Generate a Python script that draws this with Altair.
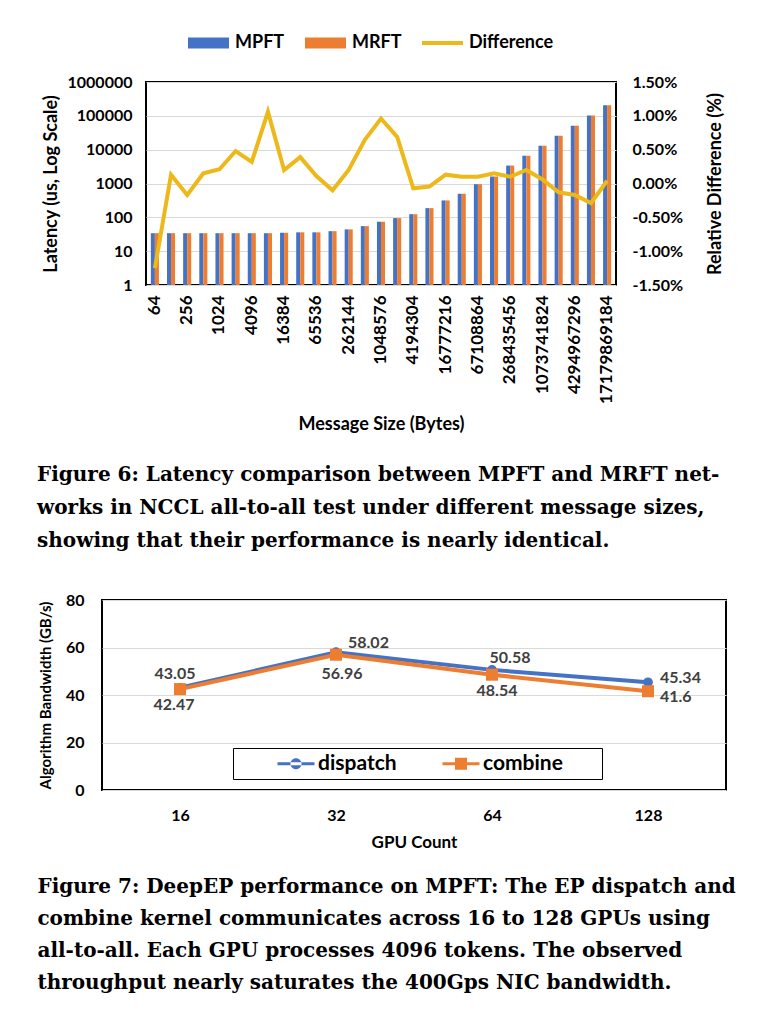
import altair as alt
import pandas as pd

# ---------------- data: Figure 6 ----------------
message_sizes = [
    "64", "128", "256", "512", "1024", "2048", "4096", "8192", "16384", "32768",
    "65536", "131072", "262144", "524288", "1048576", "2097152", "4194304",
    "8388608", "16777216", "33554432", "67108864", "134217728", "268435456",
    "536870912", "1073741824", "2147483648", "4294967296", "8589934592",
    "17179869184",
]
mpft_latency = [34, 34, 34, 34, 34, 34, 34, 34, 35, 36, 36, 39, 44, 55, 74, 95,
                124, 187, 316, 497, 955, 1607, 3388, 6650, 13100, 25800, 51000,
                102000, 205000]
mrft_latency = [34, 34, 34, 34, 34, 34, 34, 34, 35, 36, 36, 39, 44, 55, 74, 95,
                124, 187, 316, 497, 955, 1609, 3390, 6660, 13110, 25770, 50900,
                101700, 205100]
rel_difference_pct = [-1.25, 0.13, -0.17, 0.15, 0.21, 0.48, 0.32, 1.06, 0.20,
                      0.39, 0.11, -0.10, 0.20, 0.645, 0.96, 0.69, -0.07, -0.045,
                      0.13, 0.10, 0.10, 0.15, 0.10, 0.20, 0.06, -0.13, -0.17,
                      -0.29, 0.04]
bar_series = ["MPFT", "MRFT"]
diff_series = "Difference"

# ---------------- data: Figure 7 ----------------
gpu_counts = ["16", "32", "64", "128"]
dispatch_bw = [43.05, 58.02, 50.58, 45.34]
combine_bw = [42.47, 56.96, 48.54, 41.6]
bw_series = ["dispatch", "combine"]

caption6 = [
    "Figure 6: Latency comparison between MPFT and MRFT net-",
    "works in NCCL all-to-all test under different message sizes,",
    "showing that their performance is nearly identical.",
]
caption7 = [
    "Figure 7: DeepEP performance on MPFT: The EP dispatch and",
    "combine kernel communicates across 16 to 128 GPUs using",
    "all-to-all. Each GPU processes 4096 tokens. The observed",
    "throughput nearly saturates the 400Gps NIC bandwidth.",
]

BLUE = "#4472C4"
ORANGE = "#ED7D31"
GOLD = "#EDB819"
FONT = "Lato"
SERIF = "DejaVu Serif"
GRID = "#D9D9D9"

# legend glyphs (unit = half the nominal symbol size)
RECT_PATH = "M-1,-0.917H5.833V0.917H-1Z"
BAR_LINE_PATH = "M-1,-0.333H5.833V0.333H-1Z"
DISPATCH_PATH = ("M3.222,-0.18H7.333V0.18H3.222Z "
                 "M4.667,0A0.611,0.611 0 1,0 5.889,0A0.611,0.611 0 1,0 4.667,0Z")
COMBINE_PATH = "M3.222,-0.18H7.333V0.18H3.222Z M4.611,-0.667H5.944V0.667H4.611Z"

bar_df = pd.DataFrame({
    "size": message_sizes * 2,
    "series": [bar_series[0]] * len(message_sizes) + [bar_series[1]] * len(message_sizes),
    "latency": mpft_latency + mrft_latency,
})
line_df = pd.DataFrame({
    "size": message_sizes,
    "series": [diff_series] * len(message_sizes),
    "diff": [v / 100 for v in rel_difference_pct],
})
top_legend_df = pd.DataFrame({"series": bar_series + [diff_series]})

x_top = alt.X(
    "size:N", sort=message_sizes,
    scale=alt.Scale(paddingInner=0.5, paddingOuter=0.3),
    axis=alt.Axis(values=message_sizes[::2], labelAngle=-90, labelFont=FONT,
                  labelFontSize=17, labelFontWeight="bold", labelColor="black",
                  labelPadding=10, ticks=False, domain=False, grid=False,
                  title="Message Size (Bytes)", titleFont=FONT, titleFontSize=18,
                  titleFontWeight="bold", titleColor="black", titlePadding=12),
)
top_domain = bar_series + [diff_series]
top_range = [BLUE, ORANGE, GOLD]

bars = alt.Chart(bar_df).mark_bar().encode(
    x=x_top,
    xOffset=alt.XOffset("series:N", sort=bar_series),
    y=alt.Y("latency:Q", stack=None, scale=alt.Scale(type="log", domain=[1, 1000000]),
            axis=alt.Axis(values=[1, 10, 100, 1000, 10000, 100000, 1000000], format="d",
                          labelFont=FONT, labelFontSize=16, labelFontWeight="bold",
                          labelColor="black", labelPadding=14, ticks=False, domain=False,
                          grid=True, gridColor=GRID,
                          title="Latency (us, Log Scale)", titleFont=FONT,
                          titleFontSize=18, titleFontWeight="bold", titleColor="black",
                          titlePadding=7)),
    color=alt.Color("series:N", scale=alt.Scale(domain=top_domain, range=top_range), legend=None),
)

diff_line = alt.Chart(line_df).mark_line(strokeWidth=4).encode(
    x=x_top,
    y=alt.Y("diff:Q", scale=alt.Scale(domain=[-0.015, 0.015]),
            axis=alt.Axis(orient="right", values=[-0.015, -0.01, -0.005, 0, 0.005, 0.01, 0.015],
                          format=".2%", labelExpr="replace(datum.label, '\u2212', '-')",
                          labelFont=FONT, labelFontSize=16, labelFontWeight="bold",
                          labelColor="black", labelPadding=16, ticks=False, domain=False,
                          grid=False, title="Relative Difference (%)", titleFont=FONT,
                          titleFontSize=18, titleFontWeight="bold", titleColor="black",
                          titleAngle=270, titlePadding=42)),
    color=alt.Color("series:N", scale=alt.Scale(domain=top_domain, range=top_range), legend=None),
)

top_legend_props = dict(
    orient="none", legendX=39, legendY=-48, direction="horizontal", title=None,
    labelFont=FONT, labelFontSize=18, labelFontWeight="bold", labelColor="black",
    columnPadding=17, labelOffset=32, symbolSize=144, symbolStrokeWidth=0,
    symbolOpacity=1, padding=0,
)
top_legend = alt.Chart(top_legend_df).mark_point(filled=True, opacity=0, size=1).encode(
    color=alt.Color("series:N", scale=alt.Scale(domain=top_domain, range=top_range),
                    legend=alt.Legend(**top_legend_props)),
    shape=alt.Shape("series:N", scale=alt.Scale(domain=top_domain,
                                                range=[RECT_PATH, RECT_PATH, BAR_LINE_PATH]),
                    legend=alt.Legend(**top_legend_props)),
)

top = alt.layer(bars, diff_line, top_legend).resolve_scale(
    y="independent", color="independent", shape="independent"
).properties(
    width=470, height=203,
    title=alt.TitleParams(text=caption6, orient="bottom", anchor="start", frame="bounds",
                          font=SERIF, fontSize=20, fontWeight="bold", color="black",
                          lineHeight=33, offset=32, dx=-5),
)

# ---------------- Figure 7 chart ----------------
bw_df = pd.DataFrame({
    "gpus": gpu_counts * 2,
    "series": [bw_series[0]] * len(gpu_counts) + [bw_series[1]] * len(gpu_counts),
    "bw": dispatch_bw + combine_bw,
})
bw_df["label"] = bw_df["bw"].map(lambda v: f"{v:g}")
bot_legend_df = pd.DataFrame({"series": bw_series})

x_bot = alt.X("gpus:N", sort=gpu_counts, scale=alt.Scale(type="point", padding=0.5),
              axis=alt.Axis(labelAngle=0, labelFont=FONT, labelFontSize=16,
                            labelFontWeight="bold", labelColor="black", labelPadding=17,
                            ticks=False, domain=False, grid=False, title="GPU Count",
                            titleFont=FONT, titleFontSize=17, titleFontWeight="bold",
                            titleColor="black", titlePadding=11))
y_bot = alt.Y("bw:Q", scale=alt.Scale(domain=[0, 80]),
              axis=alt.Axis(values=[0, 20, 40, 60, 80], labelFont=FONT, labelFontSize=16,
                            labelFontWeight="bold", labelColor="black", labelPadding=18,
                            ticks=False, domain=False, grid=True, gridColor=GRID,
                            title="Algorithm Bandwidth (GB/s)", titleFont=FONT,
                            titleFontSize=15, titleFontWeight="bold", titleColor="black",
                            titlePadding=12))

def bot_color(legend=None):
    if legend is None:
        return alt.Color("series:N", scale=alt.Scale(domain=bw_series, range=[BLUE, ORANGE]),
                         legend=None)
    return alt.Color("series:N", scale=alt.Scale(domain=bw_series, range=[BLUE, ORANGE]),
                     legend=legend)

bw_lines = alt.Chart(bw_df).mark_line(strokeWidth=4).encode(
    x=x_bot, y=y_bot, color=bot_color(),
)
dispatch_pts = alt.Chart(bw_df).transform_filter(alt.datum.series == "dispatch").mark_point(
    filled=True, opacity=1, shape="circle", size=95).encode(x=x_bot, y=y_bot, color=bot_color())
combine_pts = alt.Chart(bw_df).transform_filter(alt.datum.series == "combine").mark_point(
    filled=True, opacity=1, shape="square", size=144).encode(x=x_bot, y=y_bot, color=bot_color())

bot_legend_props = dict(
    orient="none", legendX=131, legendY=148, direction="horizontal",
    title=".", titleOrient="right", titleOpacity=0, titleFontSize=10, titlePadding=31,
    labelFont=FONT, labelFontSize=21, labelFontWeight="bold", labelColor="black",
    columnPadding=6, labelOffset=59, symbolSize=324, symbolStrokeWidth=0,
    symbolOpacity=1, padding=5, strokeColor="black", fillColor="white",
)
bot_legend = alt.Chart(bot_legend_df).mark_point(filled=True, opacity=0, size=1).encode(
    color=bot_color(alt.Legend(**bot_legend_props)),
    shape=alt.Shape("series:N", scale=alt.Scale(domain=bw_series,
                                                range=[DISPATCH_PATH, COMBINE_PATH]),
                    legend=alt.Legend(**bot_legend_props)),
)

label_offsets = {
    ("dispatch", "16"): (-5, -14, "center"),
    ("dispatch", "32"): (12, -9, "left"),
    ("dispatch", "64"): (18, -12, "center"),
    ("dispatch", "128"): (12, -4, "left"),
    ("combine", "16"): (-6, 16, "center"),
    ("combine", "32"): (6, 19, "center"),
    ("combine", "64"): (5, 16, "center"),
    ("combine", "128"): (12, 6, "left"),
}
label_layers = []
for (ser, g), (dx, dy, al) in label_offsets.items():
    label_layers.append(
        alt.Chart(bw_df).transform_filter(
            (alt.datum.series == ser) & (alt.datum.gpus == g)
        ).mark_text(dx=dx, dy=dy, align=al, baseline="middle", font=FONT, fontSize=16,
                    fontWeight="bold", color="#404040").encode(x=x_bot, y=y_bot, text="label:N")
    )

bottom = alt.layer(bw_lines, dispatch_pts, combine_pts, bot_legend, *label_layers).resolve_scale(
    color="independent", shape="independent"
).properties(
    width=624, height=190,
    title=alt.TitleParams(text=caption7, orient="bottom", anchor="start", frame="bounds",
                          font=SERIF, fontSize=20, fontWeight="bold", color="black",
                          lineHeight=32, offset=27, dx=-1),
)

# zero-extent anchors so both panels line up on their outer left edge
anchor_df = pd.DataFrame({"a": [0]})

def anchor():
    return alt.Chart(anchor_df).mark_point(opacity=0, size=1).properties(
        width=1, height=1, view=alt.ViewBackground(stroke="transparent"))

chart = alt.vconcat(
    alt.hconcat(anchor(), top, spacing=0),
    alt.hconcat(anchor(), bottom, spacing=0),
    spacing=38,
).properties(
    padding={"left": 25, "top": 25, "right": 5, "bottom": 5}
).configure(font=FONT).configure_view(stroke="black", strokeWidth=2)

chart.save("out.html", embed_options={"renderer": "svg", "actions": False})
